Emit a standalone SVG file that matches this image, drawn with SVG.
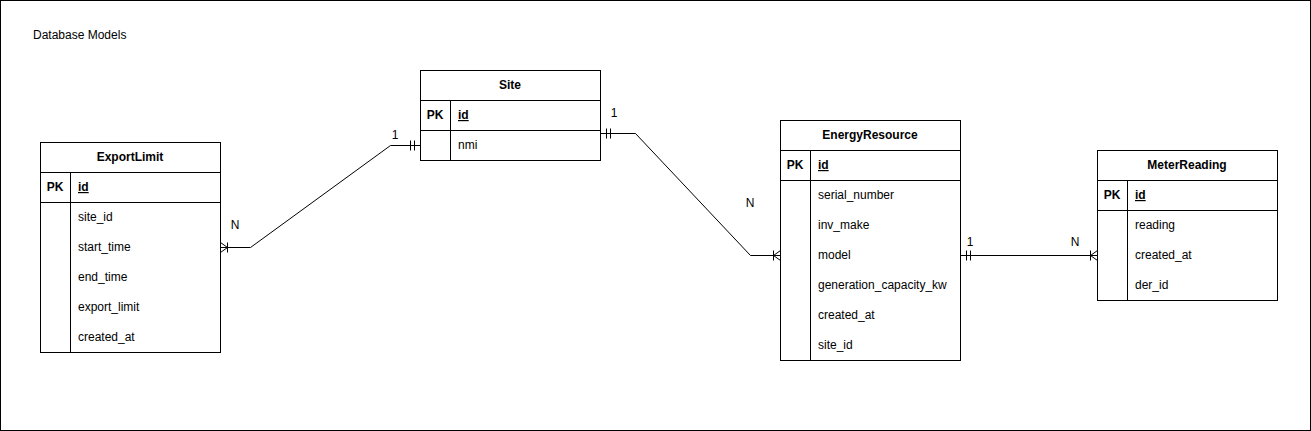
<svg xmlns="http://www.w3.org/2000/svg" width="1311" height="431" viewBox="0 0 1311 431">
<defs>
<style>
text{font-family:"Liberation Sans",Arial,Helvetica,sans-serif;font-size:12px;fill:#000}
.t{font-weight:bold;text-anchor:middle}
.pk{font-weight:bold;text-anchor:middle}
.id{font-weight:bold;text-decoration:underline}
.lbl{text-anchor:middle}
.box{fill:#fff;stroke:#000;stroke-width:1}
.ln{stroke:#000;stroke-width:1;fill:none}
.conn{stroke:#000;stroke-width:1;fill:none;marker-start:url(#one);}
</style>
<marker id="one" markerUnits="userSpaceOnUse" viewBox="0 0 14 12" markerWidth="14" markerHeight="12" refX="14" refY="6" orient="auto-start-reverse">
<path d="M0,6H14M4,1V11M8,1V11" stroke="#000" stroke-width="1" fill="none"/>
</marker>
<marker id="many" markerUnits="userSpaceOnUse" viewBox="0 0 14 12" markerWidth="14" markerHeight="12" refX="14" refY="6" orient="auto-start-reverse">
<path d="M0,6H14M7,1V11M7,6L14,1M7,6L14,11" stroke="#000" stroke-width="1" fill="none"/>
</marker>
</defs>
<rect x="0.5" y="0.5" width="1310" height="430" fill="#fff" stroke="#000" stroke-width="1"/>
<text x="33" y="39">Database Models</text>

<g id="connectors">
<path class="ln" d="M420.5,145.5H390.5L250.5,247.5H220.5" marker-start="url(#one)" marker-end="url(#many)"/>
<path class="ln" d="M600.5,133.5H635.5L750.5,255.5H780.5" marker-start="url(#one)" marker-end="url(#many)"/>
<path class="ln" d="M960.5,255.5H1097.5" marker-start="url(#one)" marker-end="url(#many)"/>
<text class="lbl" x="395" y="139">1</text>
<text class="lbl" x="235" y="229">N</text>
<text class="lbl" x="614" y="117">1</text>
<text class="lbl" x="750" y="207">N</text>
<text class="lbl" x="970" y="246">1</text>
<text class="lbl" x="1075" y="246">N</text>
</g>

<g id="site">
<rect class="box" x="420.5" y="70.5" width="180" height="90"/>
<path class="ln" d="M420.5,100.5H600.5M420.5,130.5H600.5M450.5,100.5V160.5"/>
<text class="t" x="510" y="89">Site</text>
<text class="pk" x="435" y="119">PK</text>
<text class="id" x="458" y="119">id</text>
<text x="458" y="149">nmi</text>
</g>

<g id="exportlimit">
<rect class="box" x="40.5" y="142.5" width="180" height="210"/>
<path class="ln" d="M40.5,172.5H220.5M40.5,202.5H220.5M70.5,172.5V352.5"/>
<text class="t" x="130" y="161">ExportLimit</text>
<text class="pk" x="55" y="191">PK</text>
<text class="id" x="78" y="191">id</text>
<text x="78" y="221">site_id</text>
<text x="78" y="251">start_time</text>
<text x="78" y="281">end_time</text>
<text x="78" y="311">export_limit</text>
<text x="78" y="341">created_at</text>
</g>

<g id="energyresource">
<rect class="box" x="780.5" y="120.5" width="180" height="240"/>
<path class="ln" d="M780.5,150.5H960.5M780.5,180.5H960.5M810.5,150.5V360.5"/>
<text class="t" x="870" y="139">EnergyResource</text>
<text class="pk" x="795" y="169">PK</text>
<text class="id" x="818" y="169">id</text>
<text x="818" y="199">serial_number</text>
<text x="818" y="229">inv_make</text>
<text x="818" y="259">model</text>
<text x="818" y="289">generation_capacity_kw</text>
<text x="818" y="319">created_at</text>
<text x="818" y="349">site_id</text>
</g>

<g id="meterreading">
<rect class="box" x="1097.5" y="150.5" width="180" height="150"/>
<path class="ln" d="M1097.5,180.5H1277.5M1097.5,210.5H1277.5M1127.5,180.5V300.5"/>
<text class="t" x="1187" y="169">MeterReading</text>
<text class="pk" x="1112" y="199">PK</text>
<text class="id" x="1135" y="199">id</text>
<text x="1135" y="229">reading</text>
<text x="1135" y="259">created_at</text>
<text x="1135" y="289">der_id</text>
</g>
</svg>
